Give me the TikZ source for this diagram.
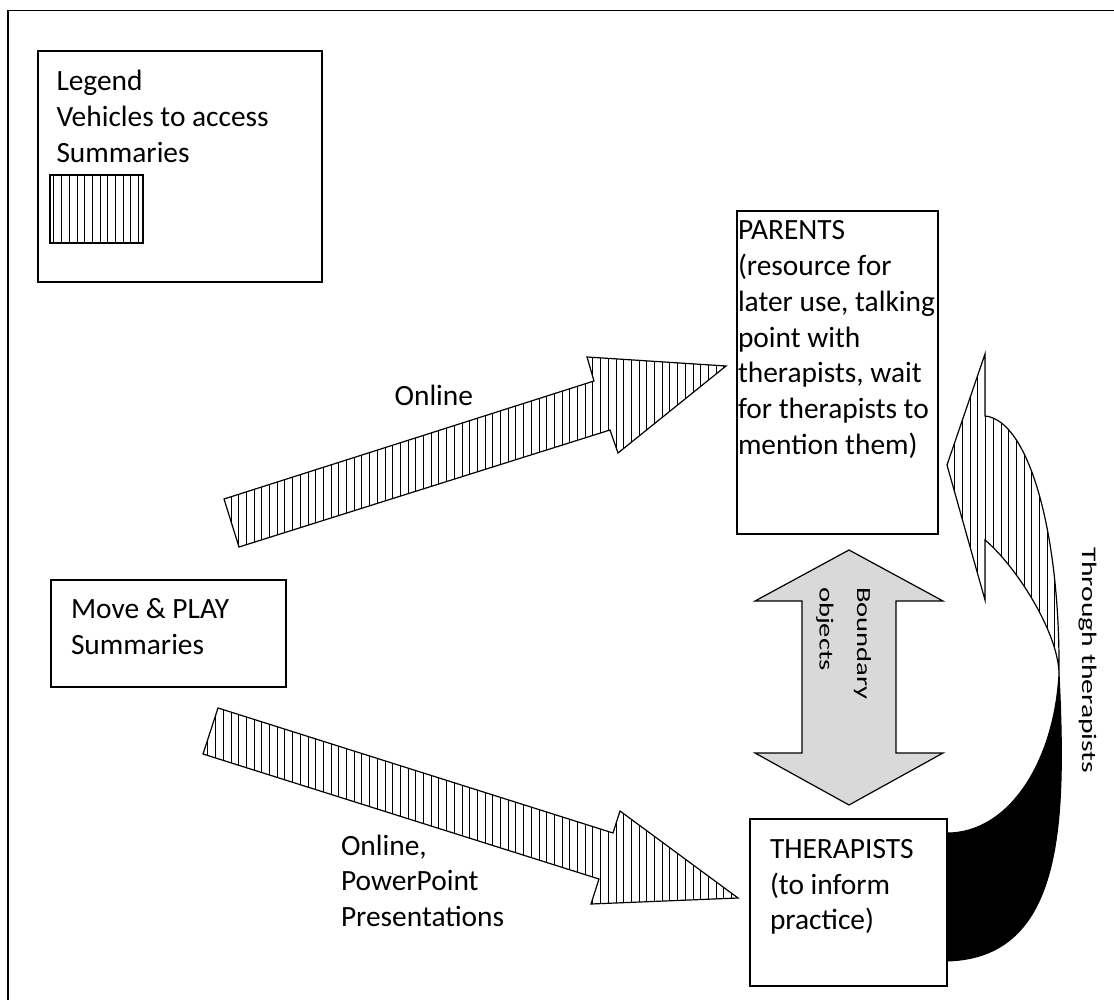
\documentclass[tikz,border=0pt]{standalone}
\usepackage{fontspec}
\setmainfont{Carlito}
\usepackage{graphicx}
\usetikzlibrary{patterns.meta}
\newcommand\mlines[1]{\begin{tabular}[t]{@{}l@{}}#1\end{tabular}}
\definecolor{boundgrey}{HTML}{D9D9D9}
\begin{document}
\begin{tikzpicture}[x=1pt,y=-1pt,
  box/.style={draw, line width=1.3pt, fill=white, inner sep=0pt, outer sep=0pt, anchor=north west},
  txt/.style={inner sep=0pt, outer sep=0pt, anchor=base west, font=\fontsize{29.4}{35.7}\selectfont},
  rtxt/.style={inner sep=0pt, outer sep=0pt, anchor=base west, rotate=-90, font=\fontsize{29.6}{53.3}\selectfont},
  hatch/.style={draw, line width=1.2pt, line join=miter, pattern={Lines[angle=90,distance=7.7pt,line width=0.9pt]}},
  blockarrow/.style={draw, line width=1.2pt, line join=miter}
]
\useasboundingbox (0,0) rectangle (1114,1000);
\clip (0,0) rectangle (1114,1000);
\fill[white] (0,0) rectangle (1114,1000);

% outer frame (cut off at right and bottom)
\draw[line width=1.5pt] (8,1012) -- (8,10.5) -- (1125,10.5);

% legend
\node[box, minimum width=284pt, minimum height=231pt] (legend) at (38,51) {};
\node[txt] (legendtext) at (56.5,90.7) {\mlines{Legend\\Vehicles to access\\Summaries}};
\node[hatch, inner sep=0pt, outer sep=0pt, anchor=north west, minimum width=93pt, minimum height=68pt] (swatch) at (50,175) {};

% curved arrow "Through therapists" (black underside)
\coordinate (twist) at (1059,672);
\filldraw[black, line width=1pt] (twist) .. controls (1066,820) and (1065,958) .. (947,961)
  -- (947,833) .. controls (1010,833) and (1055,760) .. (twist) -- cycle;
% hatched upper side with head
\draw[hatch] (947,465) -- (985,354) -- (985,416)
  .. controls (1028,420) and (1060,530) .. (twist)
  .. controls (1057,630) and (1015,565) .. (985,540)
  -- (985,600) -- cycle;

% boxes
\node[box, minimum width=201pt, minimum height=323pt] (parents) at (737,211) {};
\node[txt] (parentstext) at (738,240) {\mlines{PARENTS\\(resource for\\later use, talking\\point with\\therapists, wait\\for therapists to\\mention them)}};

\node[box, minimum width=235pt, minimum height=107pt] (move) at (51,580) {};
\node[txt] (movetext) at (71,618.3) {\mlines{Move \& PLAY\\Summaries}};

\node[box, minimum width=197pt, minimum height=167pt] (therapists) at (750,819) {};
\node[txt] (therapiststext) at (770,858.3) {\mlines{THERAPISTS\\(to inform\\practice)}};

% hatched straight arrows
\draw[hatch] (224,499) -- (594,381) -- (587,357) -- (726,366) -- (618,453) -- (610,430) -- (239,547) -- cycle;
\draw[hatch] (218,708) -- (613,833) -- (620,811) -- (738,898) -- (591,904) -- (599,879) -- (203,754) -- cycle;

% boundary objects double arrow
\draw[blockarrow, fill=boundgrey] (849,550) -- (943,601) -- (896,601) -- (896,753) -- (943,753)
  -- (849,805) -- (755,753) -- (802,753) -- (802,601) -- (755,601) -- cycle;

% labels
\node[txt] (online1) at (394.6,405) {Online};
\node[txt] (online2) at (341,855) {\mlines{Online,\\PowerPoint\\Presentations}};
\node[rtxt, font=\fontsize{28.6}{53.3}\selectfont] (boundary) at (857,587) {\scalebox{1}[0.7]{\mlines{Boundary\\objects}}};
\node[rtxt] (through) at (1082,547) {\scalebox{1}[0.7]{Through therapists}};
\end{tikzpicture}
\end{document}
